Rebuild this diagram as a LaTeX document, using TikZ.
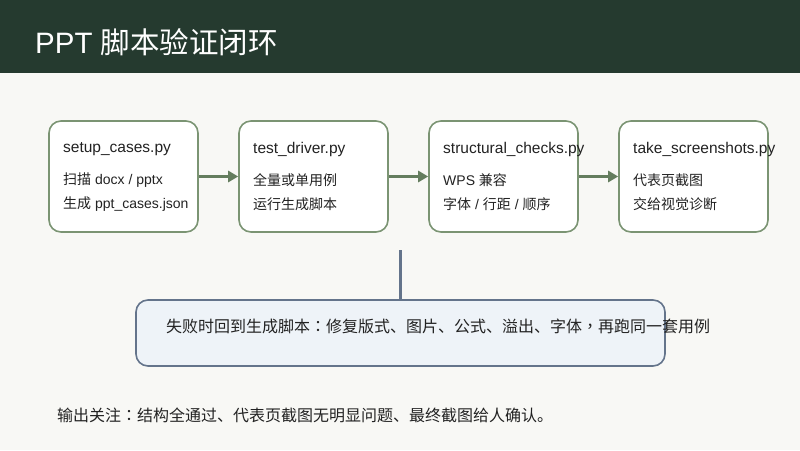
\documentclass[tikz,border=0pt]{standalone}
\usepackage{fontspec}
\setmainfont{Liberation Sans}
\newfontfamily\cjk{Noto Sans CJK SC}
\newfontfamily\cjktc{Noto Sans CJK TC}
\newcommand{\zh}[1]{{\cjk #1}}
\newcommand{\zcolon}{{\cjktc ：}}
\newcommand{\zcomma}{{\cjktc ，}}
\usetikzlibrary{arrows.meta}
\definecolor{headgreen}{HTML}{253A2F}
\definecolor{paper}{HTML}{F8F8F5}
\definecolor{boxgreen}{HTML}{7B9473}
\definecolor{arrowgreen}{HTML}{647D5E}
\definecolor{slate}{HTML}{64748B}
\definecolor{loopfill}{HTML}{EEF3F8}
\definecolor{ink}{HTML}{222222}
\tikzset{
	stepbox/.style={draw=boxgreen, line width=1.6pt, fill=white, rounded corners=12pt,
		minimum width=149pt, minimum height=111pt, inner sep=0pt},
	boxtitle/.style={anchor=west, inner sep=0pt, text=ink, font=\fontsize{15.5}{18}\selectfont},
	boxline/.style={anchor=west, inner sep=0pt, text=ink, font=\fontsize{14}{16}\selectfont},
	flow/.style={draw=arrowgreen, line width=3pt, -{Triangle[length=10pt, width=11pt]}}
}
\begin{document}
\begin{tikzpicture}[x=1pt, y=-1pt]
	\useasboundingbox (0,0) rectangle (800,450);
	% Hintergrund und Kopfzeile
	\fill[paper] (0,0) rectangle (800,450);
	\fill[headgreen] (0,0) rectangle (800,73);
	\node[anchor=west, inner sep=0pt, text=white, font=\fontsize{29.5}{32}\selectfont]
		(title) at (35,42) {PPT \zh{脚本验证闭环}};
	% Skriptkaesten
	\node[stepbox] (setup) at (123.5,176.5) {};
	\node[boxtitle] (setupT) at (63,149) {setup\_cases.py};
	\node[boxline] (setupA) at (63,180) {\zh{扫描} docx / pptx};
	\node[boxline] (setupB) at (63,204) {\zh{生成} ppt\_cases.json};
	\node[stepbox] (driver) at (313.5,176.5) {};
	\node[boxtitle] (driverT) at (253,149) {test\_driver.py};
	\node[boxline] (driverA) at (253,180) {\zh{全量或单用例}};
	\node[boxline] (driverB) at (253,204) {\zh{运行生成脚本}};
	\node[stepbox] (checks) at (503.5,176.5) {};
	\node[boxtitle] (checksT) at (443,149) {structural\_checks.py};
	\node[boxline] (checksA) at (443,180) {WPS \zh{兼容}};
	\node[boxline] (checksB) at (443,204) {\zh{字体} / \zh{行距} / \zh{顺序}};
	\node[stepbox] (shots) at (693.5,176.5) {};
	\node[boxtitle] (shotsT) at (633,149) {take\_screenshots.py};
	\node[boxline] (shotsA) at (633,180) {\zh{代表页截图}};
	\node[boxline] (shotsB) at (633,204) {\zh{交给视觉诊断}};
	% Pfeile
	\draw[flow] (setup.east) -- (driver.west);
	\draw[flow] (driver.east) -- (checks.west);
	\draw[flow] (checks.east) -- (shots.west);
	% Rueckkopplung
	\node[draw=slate, line width=1.6pt, fill=loopfill, rounded corners=12pt,
		minimum width=529pt, minimum height=66pt, inner sep=0pt] (loop) at (400.5,333) {};
	\node[anchor=west, inner sep=0pt, text=ink, font=\fontsize{16}{18}\selectfont\cjk]
		(loopT) at (166,326) {失败时回到生成脚本\zcolon 修复版式、图片、公式、溢出、字体\zcomma 再跑同一套用例};
	\coordinate (tap) at (400.5,250);
	\draw[slate, line width=3pt] (tap) -- (loop.north);
	% Fusszeile
	\node[anchor=west, inner sep=0pt, text=ink, font=\fontsize{16}{18}\selectfont\cjk]
		(note) at (57,415) {输出关注\zcolon 结构全通过、代表页截图无明显问题、最终截图给人确认。};
\end{tikzpicture}
\end{document}
